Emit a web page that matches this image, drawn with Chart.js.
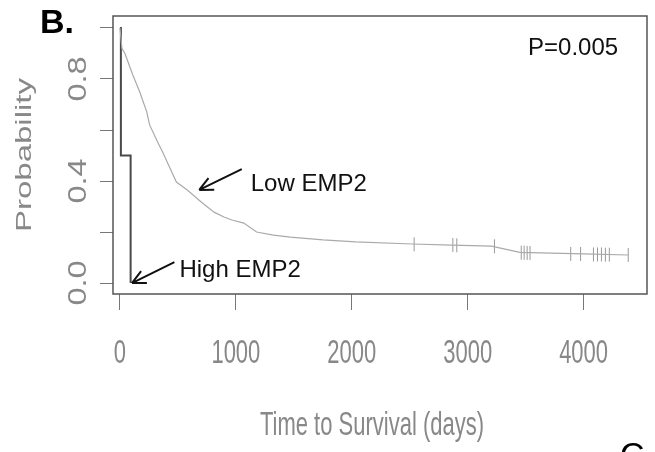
<!DOCTYPE html>
<html>
<head>
<meta charset="utf-8">
<script src="https://cdn.jsdelivr.net/npm/chart.js@4.4.0/dist/chart.umd.min.js"></script>
<style>
  html, body { margin: 0; padding: 0; background: #fff; }
  #wrap { width: 655px; height: 452px; }
</style>
</head>
<body>
<div id="wrap"><canvas id="km" width="655" height="452"></canvas></div>
<script>
// Low EMP2 survival curve (days, probability)
const lowDays = [0, 17, 43, 111, 171, 231, 256, 325, 368, 427, 487, 581, 701, 812, 897, 966, 1068, 1179, 1325, 1470, 1752, 2034, 2521, 2863, 3205, 3450, 4000, 4385];
const lowProb = [1.0, 0.92, 0.90, 0.816, 0.749, 0.671, 0.62, 0.553, 0.514, 0.455, 0.396, 0.365, 0.318, 0.278, 0.259, 0.247, 0.235, 0.20, 0.188, 0.18, 0.169, 0.161, 0.153, 0.149, 0.145, 0.12, 0.114, 0.11];

// High EMP2 (two patients)
const highDays = [0, 8, 92];
const highProb = [1.0, 0.5, 0.0];

// censored patients on the low curve
const censorDays = [2538, 2872, 2906, 3231, 3462, 3487, 3513, 3538, 3889, 3974, 4085, 4120, 4154, 4188, 4222, 4385];
const censorProb = [0.152, 0.149, 0.148, 0.144, 0.119, 0.119, 0.118, 0.118, 0.114, 0.114, 0.112, 0.112, 0.112, 0.111, 0.111, 0.11];

const xTicks = [0, 1000, 2000, 3000, 4000];
const yLabelled = [0.0, 0.4, 0.8];
const xTitle = 'Time to Survival (days)';
const yTitle = 'Probability';

// text and arrows placed in data units
const notes = [
  { text: 'P=0.005', day: 3521, prob: 0.92 },
  { text: 'Low EMP2', day: 1128, prob: 0.388 },
  { text: 'High EMP2', day: 513, prob: 0.051 }
];
const arrows = [
  { from: [1051, 0.447], to: [684, 0.365] },
  { from: [470, 0.082], to: [103, 0.0] }
];

const axisGrey = '#888';
const arial = "'Liberation Sans', Arial, sans-serif";

const toXY = (xs, ys) => xs.map((x, i) => ({ x, y: ys[i] }));

// axis text in the figure is squashed tall, so draw it stretched vertically
function tallText(ctx, text, x, y, stretch, rotate) {
  ctx.save();
  ctx.translate(x, y);
  ctx.scale(1, stretch);
  if (rotate) ctx.rotate(-Math.PI / 2);
  ctx.fillText(text, 0, 0);
  ctx.restore();
}

const decor = {
  id: 'decor',
  afterDraw(chart) {
    const { ctx, chartArea: a, scales } = chart;
    const px = d => scales.x.getPixelForValue(d);
    const py = p => scales.y.getPixelForValue(p);
    ctx.save();
    // plot box
    ctx.strokeStyle = '#555';
    ctx.lineWidth = 1.5;
    ctx.strokeRect(a.left, a.top, a.right - a.left, a.bottom - a.top);

    // axis labels and titles
    ctx.fillStyle = axisGrey;
    ctx.textAlign = 'center';
    ctx.textBaseline = 'middle';
    ctx.font = '22px ' + arial;
    xTicks.forEach(v => tallText(ctx, String(v), px(v), a.bottom + 60, 1.55));
    tallText(ctx, xTitle, 372, 426, 1.55);
    ctx.font = '25px ' + arial;
    yLabelled.forEach(v => tallText(ctx, v.toFixed(1), 79, py(v), 1.3, true));
    ctx.font = '22px ' + arial;
    tallText(ctx, yTitle, 25, (a.top + a.bottom) / 2, 1.5, true);

    // notes
    ctx.fillStyle = '#111';
    ctx.font = '24px ' + arial;
    ctx.textAlign = 'left';
    notes.forEach(n => ctx.fillText(n.text, px(n.day), py(n.prob)));

    // arrows
    ctx.strokeStyle = '#111';
    ctx.lineWidth = 2;
    arrows.forEach(ar => {
      const x1 = px(ar.from[0]), y1 = py(ar.from[1]);
      const x2 = px(ar.to[0]), y2 = py(ar.to[1]);
      const ang = Math.atan2(y2 - y1, x2 - x1);
      ctx.beginPath();
      ctx.moveTo(x1, y1);
      ctx.lineTo(x2, y2);
      [0.45, -0.45].forEach(d => {
        ctx.moveTo(x2, y2);
        ctx.lineTo(x2 - 15 * Math.cos(ang + d), y2 - 15 * Math.sin(ang + d));
      });
      ctx.stroke();
    });

    // panel letters
    ctx.fillStyle = '#000';
    ctx.font = 'bold 34px ' + arial;
    ctx.textBaseline = 'alphabetic';
    ctx.fillText('B.', 40, 33);
    ctx.font = '34px ' + arial;
    ctx.fillText('C', 620, 466);
    ctx.restore();
  }
};

new Chart(document.getElementById('km'), {
  type: 'line',
  data: {
    datasets: [
      {
        label: 'Low EMP2',
        data: toXY(lowDays, lowProb),
        borderColor: '#aaaaaa',
        borderWidth: 1.2,
        pointRadius: 0,
        tension: 0
      },
      {
        label: 'High EMP2',
        data: toXY(highDays, highProb),
        borderColor: '#4a4a4a',
        borderWidth: 2,
        pointRadius: 0,
        stepped: true
      },
      {
        label: 'censored',
        type: 'scatter',
        data: toXY(censorDays, censorProb),
        pointStyle: 'line',
        rotation: 90,
        radius: 7,
        borderColor: '#999',
        borderWidth: 1,
        showLine: false
      }
    ]
  },
  options: {
    responsive: false,
    animation: false,
    layout: { padding: { top: 16, right: 3, left: 0, bottom: 0 } },
    plugins: { legend: { display: false }, tooltip: { enabled: false } },
    scales: {
      x: {
        type: 'linear',
        min: -60,
        max: 4547,
        afterFit: s => { s.height = 158; },
        afterBuildTicks: s => { s.ticks = xTicks.map(v => ({ value: v })); },
        border: { display: false },
        grid: { drawOnChartArea: false, tickLength: 16, tickColor: '#777' },
        ticks: { display: false }
      },
      y: {
        type: 'linear',
        min: -0.043,
        max: 1.047,
        afterFit: s => { s.width = 113; },
        border: { display: false },
        grid: { drawOnChartArea: false, tickLength: 13, tickColor: '#777' },
        ticks: { display: false, stepSize: 0.2, includeBounds: false, autoSkip: false }
      }
    }
  },
  plugins: [decor]
});
</script>
</body>
</html>
